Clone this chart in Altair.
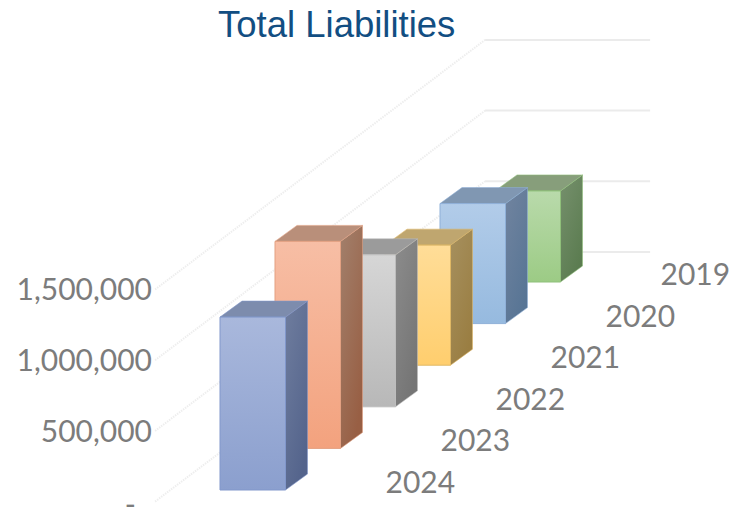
import altair as alt
import pandas as pd

# Source figures, nearest year first
years = ["2024", "2023", "2022", "2021", "2020", "2019"]
liabilities = [1223000, 1464000, 1075000, 849000, 849000, 644000]
tick_values = [0, 500000, 1000000, 1500000]
tick_labels = ["-", "500,000", "1,000,000", "1,500,000"]

front_top = ["#A9B8DC", "#F7BEA5", "#D6D6D6", "#FFDD98", "#B2CCE9", "#B9DAAB"]
front_bottom = ["#8B9FCE", "#F3A27E", "#B8B8B8", "#FFCE6E", "#96BADF", "#9CCB85"]
side_top = ["#6F7D9E", "#A2806C", "#8C8C8C", "#A6905F", "#71849F", "#76906D"]
side_bottom = ["#54648C", "#985F44", "#757575", "#9A7E42", "#587595", "#5B7C50"]
top_fill = ["#7D8CAD", "#B98F7A", "#9B9B9B", "#BFA66F", "#8097B2", "#879E7B"]
edge = ["#8197CB", "#E3A081", "#BDBDBD", "#E0B864", "#8FB0D8", "#8FC07A"]

# Oblique projection: one category step moves right and up; the value axis stays vertical.
UNITS_PER_PX = 7072
STEP_RISE = 41.6 * UNITS_PER_PX
BAR_WIDTH = 65.5 / 55
DEPTH_RUN = 22 / 55
DEPTH_RISE = 16 * UNITS_PER_PX
WALL_LIFT = 37.5 * UNITS_PER_PX

X_SCALE = alt.Scale(domain=[-4, 526 / 55], range=[0, 746], nice=False, zero=False)
Y_SCALE = alt.Scale(
    domain=[-18 * UNITS_PER_PX, 490 * UNITS_PER_PX], range=[508, 0], nice=False, zero=False
)


def xq(field):
    return alt.X(f"{field}:Q", scale=X_SCALE, axis=None)


def yq(field):
    return alt.Y(f"{field}:Q", scale=Y_SCALE, axis=None)


def vertical(top, bottom):
    return alt.Gradient(
        gradient="linear", x1=0, x2=0, y1=0, y2=1,
        stops=[alt.GradientStop(color=top, offset=0), alt.GradientStop(color=bottom, offset=1)],
    )


def diagonal(top, bottom):
    return alt.Gradient(
        gradient="linear", x1=0, x2=0.6, y1=0, y2=1,
        stops=[alt.GradientStop(color=top, offset=0), alt.GradientStop(color=bottom, offset=1)],
    )


layers = []

# Back wall and side wall gridlines
for v in tick_values:
    s0, s1, s2 = -1.18, 4.82, 7.82
    wall = pd.DataFrame({
        "x": [s1, s2],
        "y": [v + s1 * STEP_RISE + WALL_LIFT] * 2,
    })
    layers.append(
        alt.Chart(wall).mark_line(color="#EBEBEB", strokeWidth=2).encode(x=xq("x"), y=yq("y"))
    )
    side = pd.DataFrame({
        "x": [s0, s1],
        "y": [v + s0 * STEP_RISE + WALL_LIFT, v + s1 * STEP_RISE + WALL_LIFT],
    })
    layers.append(
        alt.Chart(side)
        .mark_line(color="#EEEEEE", strokeWidth=2, strokeDash=[1.5, 1])
        .encode(x=xq("x"), y=yq("y"))
    )

# Boxes, painted from the farthest year to the nearest
for i in reversed(range(len(years))):
    v = liabilities[i]
    base = i * STEP_RISE
    top = base + v
    left, right = float(i), i + BAR_WIDTH

    side = pd.DataFrame({
        "x": [right, right + DEPTH_RUN],
        "y": [top, top + DEPTH_RISE],
        "y2": [base, base + DEPTH_RISE],
    })
    layers.append(
        alt.Chart(side)
        .mark_area(
            color=diagonal(side_top[i], side_bottom[i]),
            stroke=edge[i], strokeWidth=0.8, strokeOpacity=0.7, opacity=1,
        )
        .encode(x=xq("x"), y=yq("y"), y2="y2:Q")
    )

    lid = pd.DataFrame({
        "x": [left, left + DEPTH_RUN, right, right + DEPTH_RUN],
        "y": [top, top + DEPTH_RISE, top + DEPTH_RISE, top + DEPTH_RISE],
        "y2": [top, top, top, top + DEPTH_RISE],
    })
    layers.append(
        alt.Chart(lid)
        .mark_area(color=top_fill[i], stroke=edge[i], strokeWidth=0.8, strokeOpacity=0.7, opacity=1)
        .encode(x=xq("x"), y=yq("y"), y2="y2:Q")
    )

    face = pd.DataFrame({"x": [left], "x2": [right], "y": [top], "y2": [base]})
    layers.append(
        alt.Chart(face)
        .mark_rect(color=vertical(front_top[i], front_bottom[i]), stroke=edge[i], strokeWidth=1, opacity=1)
        .encode(x=xq("x"), x2="x2:Q", y=yq("y"), y2="y2:Q")
    )

# Category labels follow the depth axis
year_frame = pd.DataFrame({
    "x": [i + 165.5 / 55 for i in range(len(years))],
    "y": [i * STEP_RISE + 6 * UNITS_PER_PX for i in range(len(years))],
    "label": years,
})
layers.append(
    alt.Chart(year_frame)
    .mark_text(font="Lato", fontSize=30, color="#7C7C7C", align="left", baseline="middle")
    .encode(x=xq("x"), y=yq("y"), text="label:N")
)

# Value labels run up the left edge of the floor
value_frame = pd.DataFrame({
    "x": [-68 / 55] * 3,
    "y": [v * 1.004 - 13.5 * UNITS_PER_PX for v in tick_values[1:]],
    "label": tick_labels[1:],
})
layers.append(
    alt.Chart(value_frame)
    .mark_text(font="Lato", fontSize=30, color="#7C7C7C", align="right", baseline="middle")
    .encode(x=xq("x"), y=yq("y"), text="label:N")
)
zero_frame = pd.DataFrame({
    "x": [-84 / 55],
    "y": [tick_values[0] - 16 * UNITS_PER_PX],
    "label": tick_labels[:1],
})
layers.append(
    alt.Chart(zero_frame)
    .mark_text(font="Lato", fontSize=30, color="#7C7C7C", align="right", baseline="middle")
    .encode(x=xq("x"), y=yq("y"), text="label:N")
)

chart = (
    alt.layer(*layers)
    .properties(
        width=746,
        height=508,
        padding=0,
        autosize=alt.AutoSizeParams(type="none"),
        title=alt.TitleParams(
            "Total Liabilities",
            font="Liberation Sans",
            fontSize=36.5,
            fontWeight="normal",
            color="#124E82",
            anchor="start",
            frame="bounds",
            offset=-44,
            dx=218,
        ),
    )
    .configure_view(stroke=None)
)

chart.save("out.html", embed_options={"renderer": "svg", "actions": False})
